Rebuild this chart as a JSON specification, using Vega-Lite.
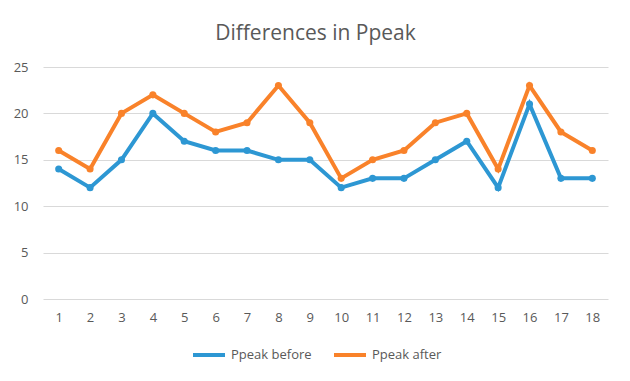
{
  "$schema": "https://vega.github.io/schema/vega-lite/v6.json",
  "width": 565,
  "height": 232,
  "autosize": {"type": "none"},
  "padding": {"left": 43, "top": 67, "right": 22, "bottom": 82},
  "background": "white",
  "title": {
    "text": "Differences in Ppeak",
    "font": "Open Sans",
    "fontSize": 21,
    "fontWeight": "normal",
    "color": "#595959",
    "anchor": "middle",
    "dx": -10,
    "offset": 17
  },
  "data": {
    "values": [
      {"x": 1, "series": "Ppeak before", "v": 14}, {"x": 2, "series": "Ppeak before", "v": 12},
      {"x": 3, "series": "Ppeak before", "v": 15}, {"x": 4, "series": "Ppeak before", "v": 20},
      {"x": 5, "series": "Ppeak before", "v": 17}, {"x": 6, "series": "Ppeak before", "v": 16},
      {"x": 7, "series": "Ppeak before", "v": 16}, {"x": 8, "series": "Ppeak before", "v": 15},
      {"x": 9, "series": "Ppeak before", "v": 15}, {"x": 10, "series": "Ppeak before", "v": 12},
      {"x": 11, "series": "Ppeak before", "v": 13}, {"x": 12, "series": "Ppeak before", "v": 13},
      {"x": 13, "series": "Ppeak before", "v": 15}, {"x": 14, "series": "Ppeak before", "v": 17},
      {"x": 15, "series": "Ppeak before", "v": 12}, {"x": 16, "series": "Ppeak before", "v": 21},
      {"x": 17, "series": "Ppeak before", "v": 13}, {"x": 18, "series": "Ppeak before", "v": 13},
      {"x": 1, "series": "Ppeak after", "v": 16}, {"x": 2, "series": "Ppeak after", "v": 14},
      {"x": 3, "series": "Ppeak after", "v": 20}, {"x": 4, "series": "Ppeak after", "v": 22},
      {"x": 5, "series": "Ppeak after", "v": 20}, {"x": 6, "series": "Ppeak after", "v": 18},
      {"x": 7, "series": "Ppeak after", "v": 19}, {"x": 8, "series": "Ppeak after", "v": 23},
      {"x": 9, "series": "Ppeak after", "v": 19}, {"x": 10, "series": "Ppeak after", "v": 13},
      {"x": 11, "series": "Ppeak after", "v": 15}, {"x": 12, "series": "Ppeak after", "v": 16},
      {"x": 13, "series": "Ppeak after", "v": 19}, {"x": 14, "series": "Ppeak after", "v": 20},
      {"x": 15, "series": "Ppeak after", "v": 14}, {"x": 16, "series": "Ppeak after", "v": 23},
      {"x": 17, "series": "Ppeak after", "v": 18}, {"x": 18, "series": "Ppeak after", "v": 16}
    ]
  },
  "mark": {
    "type": "line",
    "strokeWidth": 4,
    "point": {"filled": true, "size": 50}
  },
  "encoding": {
    "x": {
      "field": "x",
      "type": "ordinal",
      "scale": {"paddingInner": 0, "paddingOuter": 0.5},
      "axis": {
        "title": null,
        "labelAngle": 0,
        "domain": false,
        "ticks": false,
        "grid": false,
        "labelFont": "Open Sans",
        "labelFontSize": 13,
        "labelColor": "#595959",
        "labelPadding": 12
      }
    },
    "y": {
      "field": "v",
      "type": "quantitative",
      "scale": {"domain": [0, 25], "nice": false},
      "axis": {
        "title": null,
        "values": [0, 5, 10, 15, 20, 25],
        "domain": false,
        "ticks": false,
        "gridColor": "#d9d9d9",
        "gridWidth": 1,
        "labelFont": "Open Sans",
        "labelFontSize": 13,
        "labelColor": "#595959",
        "labelPadding": 15
      }
    },
    "color": {
      "field": "series",
      "type": "nominal",
      "sort": ["Ppeak before", "Ppeak after"],
      "scale": {"domain": ["Ppeak before", "Ppeak after"], "range": ["#2D97D3", "#F9822A"]},
      "legend": {
        "title": null,
        "orient": "none",
        "direction": "horizontal",
        "legendX": 148,
        "legendY": 270,
        "symbolType": "stroke",
        "symbolStrokeWidth": 4,
        "symbolSize": 1024,
        "labelFont": "Open Sans",
        "labelFontSize": 13,
        "labelColor": "#595959",
        "labelOffset": 4,
        "columnPadding": 14
      }
    }
  },
  "config": {"view": {"stroke": null}}
}
